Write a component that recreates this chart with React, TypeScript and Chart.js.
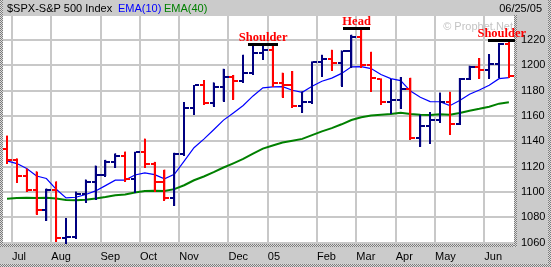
import React, { useEffect, useRef } from 'react';
import { Chart, registerables } from 'chart.js';

Chart.register(...registerables);

// Weekly bars, week ending 2004-07-02 ... 2005-06-24 (index 0..51)
const opens = [
  1134.0, 1125.4, 1112.8, 1101.4, 1086.2, 1101.7, 1064.0, 1064.8, 1098.4, 1107.8,
  1113.6, 1123.9, 1128.6, 1110.1, 1131.5, 1122.1, 1108.2, 1095.2, 1130.2, 1166.2,
  1184.2, 1170.3, 1182.7, 1191.2, 1188.0, 1194.2, 1210.1, 1211.9, 1186.2, 1184.5,
  1167.9, 1171.4, 1203.0, 1205.3, 1201.6, 1211.4, 1222.1, 1200.1, 1189.0, 1171.4,
  1172.9, 1181.2, 1142.6, 1152.1, 1156.9, 1171.4, 1154.1, 1189.3, 1198.8, 1196.0,
  1200.9, 1217.0,
];
const highs = [
  1144.3, 1126.5, 1118.3, 1116.2, 1102.6, 1108.3, 1079.2, 1100.2, 1109.7, 1120.7,
  1125.2, 1130.4, 1131.7, 1131.5, 1142.0, 1123.6, 1117.5, 1130.8, 1170.9, 1184.2,
  1188.2, 1186.4, 1197.1, 1192.2, 1208.2, 1216.8, 1217.4, 1217.4, 1194.0, 1195.3,
  1179.3, 1203.0, 1208.2, 1212.1, 1211.6, 1224.0, 1229.5, 1210.5, 1189.5, 1189.0,
  1190.6, 1190.0, 1160.9, 1163.0, 1178.3, 1179.0, 1189.8, 1199.5, 1205.6, 1208.7,
  1217.5, 1218.7,
];
const lows = [
  1122.8, 1108.0, 1100.6, 1082.6, 1077.6, 1061.0, 1059.4, 1063.5, 1092.1, 1094.7,
  1113.0, 1119.4, 1108.9, 1100.4, 1119.4, 1101.2, 1093.9, 1089.4, 1129.4, 1161.9,
  1169.8, 1168.0, 1171.9, 1173.3, 1187.1, 1193.0, 1205.4, 1183.5, 1175.0, 1167.5,
  1163.0, 1170.5, 1192.0, 1196.7, 1184.0, 1198.5, 1199.0, 1180.0, 1169.5, 1162.8,
  1166.0, 1142.0, 1136.0, 1138.6, 1155.2, 1145.5, 1153.8, 1189.0, 1189.8, 1190.3,
  1190.6, 1191.1,
];
const closes = [
  1125.4, 1112.8, 1101.4, 1086.2, 1101.7, 1064.0, 1064.8, 1098.4, 1107.8, 1113.6,
  1123.9, 1128.6, 1110.1, 1131.5, 1122.1, 1108.2, 1095.2, 1130.2, 1166.2, 1184.2,
  1170.3, 1182.7, 1191.2, 1188.0, 1194.2, 1210.1, 1211.9, 1186.2, 1184.5, 1167.9,
  1171.4, 1203.0, 1205.3, 1201.6, 1211.4, 1222.1, 1200.1, 1190.2, 1171.4, 1172.9,
  1181.2, 1142.6, 1152.1, 1156.9, 1171.4, 1154.1, 1189.3, 1198.8, 1196.0, 1200.9,
  1217.0, 1191.6,
];
const ema10 = [
  1124.6, 1122.5, 1118.6, 1112.7, 1110.7, 1102.2, 1095.4, 1095.9, 1098.1, 1100.9,
  1105.1, 1109.4, 1109.5, 1113.5, 1115.1, 1113.8, 1110.4, 1114.0, 1124.5, 1135.0,
  1141.8, 1149.2, 1156.8, 1162.5, 1168.3, 1175.9, 1182.3, 1183.0, 1183.2, 1180.4,
  1178.8, 1183.6, 1187.5, 1190.0, 1193.7, 1198.9, 1199.1, 1197.5, 1192.8, 1189.6,
  1188.0, 1179.7, 1174.8, 1171.4, 1171.3, 1168.2, 1172.3, 1177.2, 1180.6, 1184.3,
  1189.5, 1190.3,
];
const ema40 = [
  1094.7, 1095.3, 1095.6, 1095.3, 1095.6, 1094.9, 1093.7, 1093.5, 1094.0, 1094.9,
  1096.1, 1097.5, 1098.1, 1099.7, 1100.8, 1101.1, 1100.8, 1102.3, 1105.4, 1109.3,
  1112.3, 1115.7, 1119.4, 1122.7, 1126.2, 1130.3, 1134.3, 1136.8, 1139.1, 1140.5,
  1142.0, 1145.0, 1147.9, 1150.5, 1153.5, 1156.9, 1159.0, 1160.5, 1161.0, 1161.6,
  1162.6, 1161.6, 1161.1, 1160.9, 1161.4, 1161.0, 1162.4, 1164.2, 1165.7, 1167.4,
  1169.8, 1170.9,
];

// month boundaries (between weekly bars) and their labels
const monthTickPos = [0.5, 4.5, 9.5, 13.5, 17.5, 22.5, 26.5, 31.5, 35.5, 39.5, 43.5, 48.5];
const monthLabels = ['Jul', 'Aug', 'Sep', 'Oct', 'Nov', 'Dec', '05', 'Feb', 'Mar', 'Apr', 'May', 'Jun'];
const priceTicks = [1060, 1080, 1100, 1120, 1140, 1160, 1180, 1200, 1220];

// pattern annotations: label, start/end bar index, price level
const patternLabels = ['Shoulder', 'Head', 'Shoulder'];
const patternStart = [24.5, 34.15, 48.9];
const patternEnd = [27.55, 36.9, 51.65];
const patternLevel = [1217.2, 1229.5, 1220.3];

const UP = '#000080';
const DOWN = '#ff0000';
const FRAME = '#cbcbcb';
const GRID = '#c8c8c8';
const SANS = '"Liberation Sans", Arial, sans-serif';

function dotted(ctx: CanvasRenderingContext2D, x: number, y: number, w: number, h: number) {
  for (let i = 0; i < w; i++) {
    for (let j = 0; j < h; j++) {
      ctx.fillStyle = (i + j) % 2 === 0 ? '#7c7c7c' : '#dcdcdc';
      ctx.fillRect(x + i, y + j, 1, 1);
    }
  }
}

const decorPlugin = {
  id: 'decor',
  beforeDraw(chart: any) {
    const { ctx, chartArea: a, width, height } = chart;
    ctx.save();
    ctx.fillStyle = FRAME;
    ctx.fillRect(0, 0, width, height);
    ctx.fillStyle = '#ffffff';
    ctx.fillRect(a.left, a.top, a.right - a.left, a.bottom - a.top);
    ctx.restore();
  },
  beforeDatasetsDraw(chart: any) {
    const { ctx, chartArea: a } = chart;
    ctx.save();
    ctx.font = '11px ' + SANS;
    ctx.fillStyle = '#c4c4c4';
    ctx.textAlign = 'right';
    ctx.textBaseline = 'alphabetic';
    ctx.fillText('\u00A9 Prophet.Net', a.right - 1, a.top + 14);
    ctx.restore();
  },
  afterDatasetsDraw(chart: any) {
    // crisp OHLC strokes: high-low line, open tick (left), close tick (right)
    const { ctx } = chart;
    const xs = chart.scales.x;
    const ys = chart.scales.y;
    ctx.save();
    for (let i = 0; i < closes.length; i++) {
      const px = Math.round(xs.getPixelForValue(i));
      const ph = Math.round(ys.getPixelForValue(highs[i]));
      const pl = Math.round(ys.getPixelForValue(lows[i]));
      const po = Math.round(ys.getPixelForValue(opens[i]));
      const pc = Math.round(ys.getPixelForValue(closes[i]));
      ctx.fillStyle = closes[i] >= opens[i] ? UP : DOWN;
      ctx.fillRect(px - 1, ph, 2, pl - ph + 1);
      ctx.fillRect(px - 4, po - 1, 3, 2);
      ctx.fillRect(px + 1, pc - 1, 4, 2);
    }
    ctx.restore();
  },
  afterDraw(chart: any) {
    const { ctx, chartArea: a, width, height } = chart;
    const xs = chart.scales.x;
    const ys = chart.scales.y;
    ctx.save();
    // frame borders
    dotted(ctx, 0, 0, 3, a.bottom + 3);
    dotted(ctx, 0, a.bottom, a.right + 3, 3);
    dotted(ctx, a.right, a.top - 1, 3, a.bottom - a.top + 4);
    dotted(ctx, 0, height - 3, width, 3);
    dotted(ctx, width - 3, 0, 3, height);
    // header
    ctx.font = '11px ' + SANS;
    ctx.textBaseline = 'alphabetic';
    ctx.textAlign = 'left';
    ctx.fillStyle = '#000000';
    ctx.fillText('$SPX-S&P 500 Index', 7, 12);
    ctx.fillStyle = '#0000ff';
    ctx.fillText('EMA(10)', 118, 12);
    ctx.fillStyle = '#008000';
    ctx.fillText('EMA(40)', 164, 12);
    ctx.fillStyle = '#000000';
    ctx.textAlign = 'right';
    ctx.fillText('06/25/05', 542, 12);
    // head & shoulders annotations
    for (let k = 0; k < patternLabels.length; k++) {
      const x1 = xs.getPixelForValue(patternStart[k]);
      const x2 = xs.getPixelForValue(patternEnd[k]);
      const y = Math.round(ys.getPixelForValue(patternLevel[k]));
      ctx.fillStyle = '#000000';
      ctx.fillRect(Math.round(x1), y - 1, Math.round(x2 - x1), 3);
      ctx.fillStyle = '#ff0000';
      ctx.font = 'bold 12.5px "Liberation Serif", "Times New Roman", serif';
      ctx.textAlign = 'center';
      ctx.fillText(patternLabels[k], (x1 + x2) / 2, y - 3);
    }
    ctx.restore();
  },
};

export default function App() {
  const ref = useRef<HTMLCanvasElement | null>(null);
  useEffect(() => {
    if (!ref.current) return;
    const idx = closes.map((_, i) => i);
    const upBars = idx.filter((i) => closes[i] >= opens[i]).map((i) => ({ x: i, y: [lows[i], highs[i]] }));
    const downBars = idx.filter((i) => closes[i] < opens[i]).map((i) => ({ x: i, y: [lows[i], highs[i]] }));
    const chart = new Chart(ref.current, {
      type: 'bar',
      data: {
        datasets: [
          {
            type: 'bar',
            label: 'Up',
            data: upBars as any,
            backgroundColor: UP,
            borderWidth: 0,
            barThickness: 1,
            grouped: false,
            order: 0,
          } as any,
          {
            type: 'bar',
            label: 'Down',
            data: downBars as any,
            backgroundColor: DOWN,
            borderWidth: 0,
            barThickness: 1,
            grouped: false,
            order: 0,
          } as any,
          {
            type: 'line',
            label: 'EMA(40)',
            data: ema40.map((v, i) => ({ x: i, y: v })),
            borderColor: '#008000',
            borderWidth: 2,
            pointRadius: 0,
            tension: 0,
            order: 2,
          },
          {
            type: 'line',
            label: 'EMA(10)',
            data: ema10.map((v, i) => ({ x: i, y: v })),
            borderColor: '#0000ff',
            borderWidth: 1.2,
            pointRadius: 0,
            tension: 0,
            order: 1,
          },
        ],
      },
      options: {
        responsive: false,
        animation: false,
        devicePixelRatio: 1,
        layout: { padding: { left: 3, top: 16, right: 0, bottom: 0 } },
        plugins: { legend: { display: false }, tooltip: { enabled: false } },
        events: [],
        scales: {
          x: {
            type: 'linear',
            offset: false,
            min: -0.41,
            max: 51.52,
            position: 'bottom',
            grid: { color: GRID, lineWidth: 2, drawTicks: false, offset: false },
            border: { display: false },
            afterBuildTicks: (axis: any) => {
              axis.ticks = monthTickPos.map((v) => ({ value: v }));
            },
            afterFit: (axis: any) => {
              axis.height = 23;
            },
            ticks: {
              autoSkip: false,
              maxRotation: 0,
              align: 'start',
              padding: 6,
              color: '#000000',
              font: { family: SANS, size: 11 },
              callback: (value: any) => {
                const k = monthTickPos.indexOf(Number(value));
                return k >= 0 ? monthLabels[k] : '';
              },
            },
          },
          y: {
            type: 'linear',
            position: 'right',
            min: 1059,
            max: 1239,
            grid: { color: GRID, lineWidth: 2, drawTicks: false },
            border: { display: false },
            afterBuildTicks: (axis: any) => {
              axis.ticks = priceTicks.map((v) => ({ value: v }));
            },
            afterFit: (axis: any) => {
              axis.width = 37;
            },
            ticks: {
              padding: 7,
              color: '#000000',
              font: { family: SANS, size: 11 },
              callback: (value: any) => String(value),
            },
          },
        },
      } as any,
      plugins: [decorPlugin],
    });
    return () => chart.destroy();
  }, []);
  return (
    <div style={{ position: 'fixed', left: 0, top: 0, width: 551, height: 267 }}>
      <canvas ref={ref} width={551} height={267} style={{ display: 'block', width: 551, height: 267 }} />
    </div>
  );
}
